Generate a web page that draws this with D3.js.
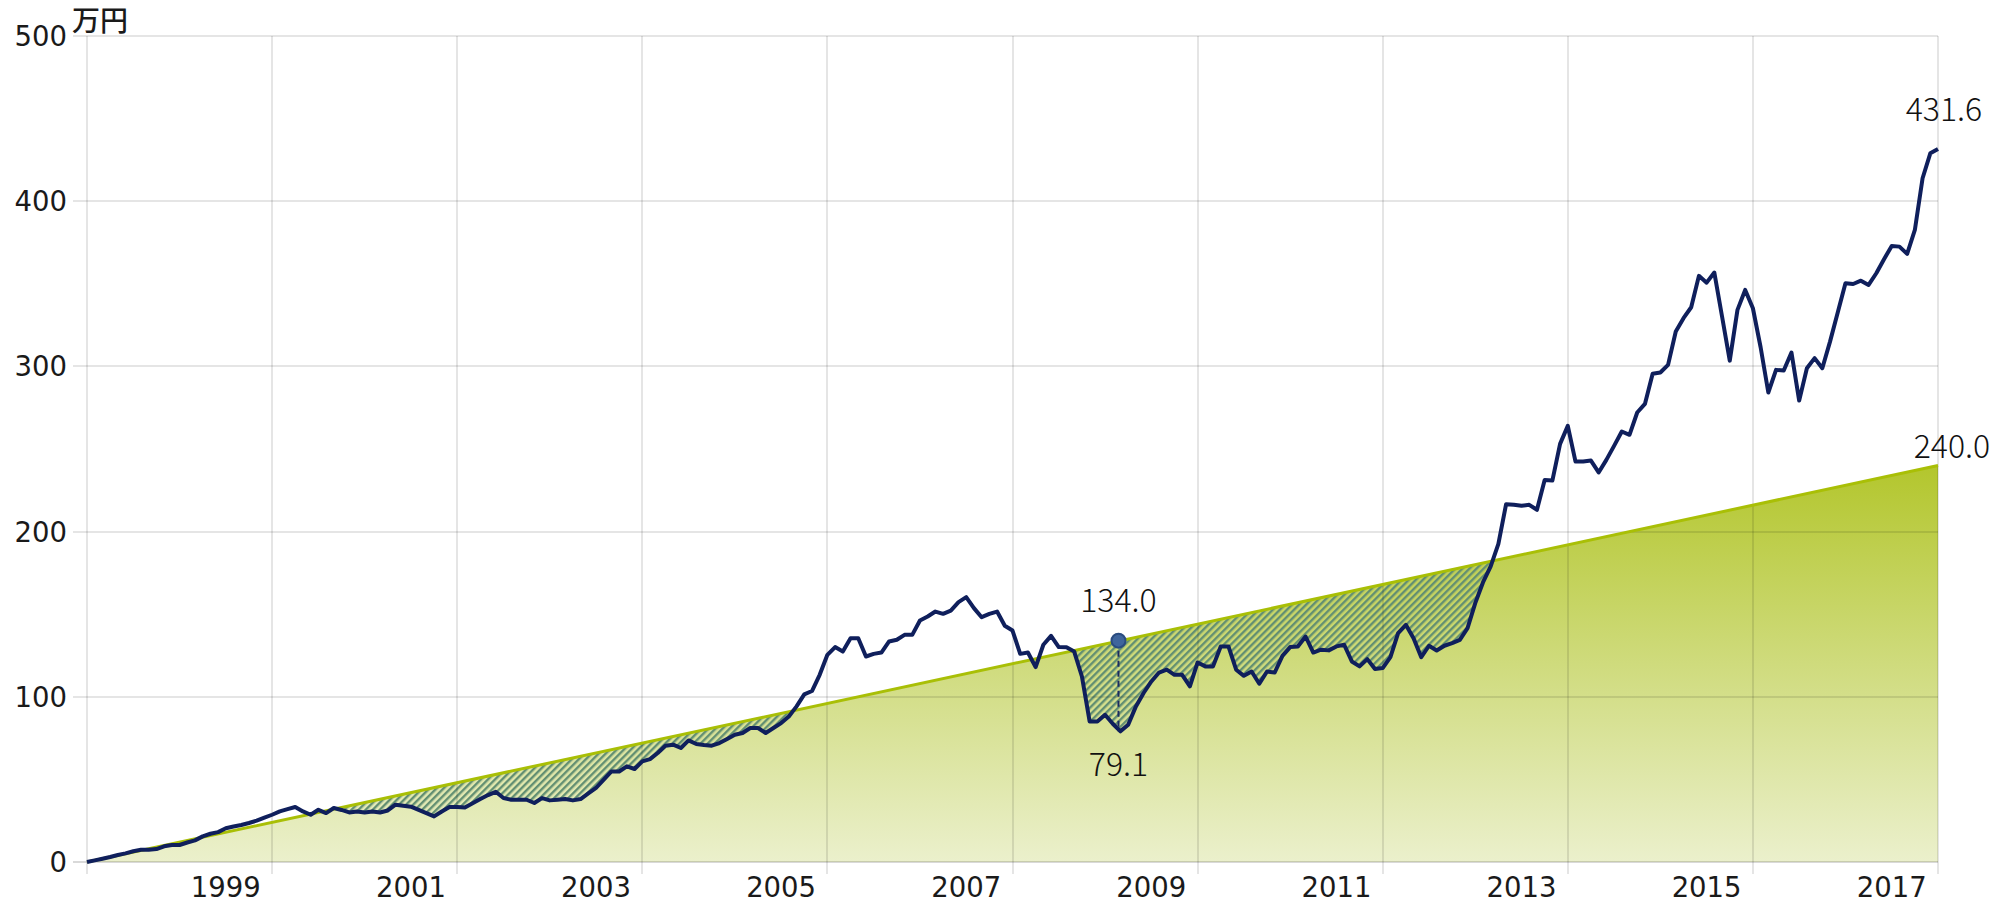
<!DOCTYPE html>
<html>
<head>
<meta charset="utf-8">
<script src="https://cdn.jsdelivr.net/npm/d3@7"></script>
<style>
  body { margin: 0; background: #fff; }
  svg { display: block; }
</style>
</head>
<body>
<script>
// years shown under the axis, y ticks (万円)
var yearLabels = [1999, 2001, 2003, 2005, 2007, 2009, 2011, 2013, 2015, 2017];
var yTicks = [0, 100, 200, 300, 400, 500];

// cumulative contribution (1万円 / month): straight line from start to end
var principalMonths = [0, 240];
var principalValues = [0, 240];

// market value of the holding, one value per month (万円)
var assetValues = [
  0, 1.0, 2.0, 3.0, 4.2, 5.2, 6.5, 7.4, 7.4, 7.8,
  9.5, 10.3, 10.3, 11.8, 13.1, 15.5, 17.1, 18.1, 20.4, 21.5,
  22.4, 23.6, 25.0, 26.8, 28.6, 30.6, 32.0, 33.3, 30.6, 28.6,
  31.6, 29.6, 32.7, 31.5, 30.0, 30.6, 30.0, 30.6, 30.0, 31.2,
  34.7, 34.1, 33.5, 31.5, 29.6, 27.6, 30.6, 33.3, 33.3, 33.0,
  35.5, 38.1, 40.5, 42.5, 38.7, 37.7, 37.7, 37.7, 35.7, 38.7,
  37.3, 37.7, 38.1, 37.3, 38.1, 41.5, 44.8, 49.8, 54.8, 54.8,
  57.9, 56.3, 60.9, 62.3, 66.0, 70.4, 71.0, 69.0, 73.6, 71.4,
  70.8, 70.4, 72.0, 74.5, 77.0, 78.1, 81.1, 81.1, 78.1, 81.1,
  84.1, 88.1, 94.2, 101.5, 103.5, 113.3, 125.4, 130.1, 127.4, 135.5,
  135.5, 124.4, 126.0, 126.8, 133.5, 134.5, 137.5, 137.5, 146.2, 148.6,
  151.6, 150.2, 152.2, 157.3, 160.3, 153.7, 148.2, 150.2, 151.6, 143.0,
  140.1, 126.0, 126.8, 118.0, 131.5, 136.9, 130.1, 130.0, 127.4, 112.3,
  85.1, 85.1, 89.1, 83.7, 79.1, 83.1, 94.2, 102.3, 109.3, 114.7,
  116.4, 113.3, 113.3, 106.3, 120.8, 118.4, 118.4, 130.5, 130.5, 116.4,
  112.7, 115.3, 107.9, 115.3, 114.7, 124.8, 130.1, 130.5, 136.5, 126.8,
  128.5, 128.1, 130.5, 131.5, 121.4, 118.4, 122.8, 116.8, 117.4, 124.0,
  138.6, 143.6, 135.5, 124.0, 130.9, 128.0, 130.9, 132.5, 134.5, 141.6,
  156.7, 169.2, 178.9, 192.6, 216.6, 216.2, 215.6, 216.2, 213.2, 231.3,
  230.9, 253.1, 264.0, 242.4, 242.4, 243.0, 235.8, 243.4, 251.9, 260.6,
  258.6, 272.1, 277.3, 295.5, 296.3, 300.9, 321.1, 329.2, 335.8, 354.8,
  350.7, 356.8, 330.2, 303.5, 334.2, 346.3, 335.2, 311.6, 284.2, 297.9,
  297.5, 308.4, 279.3, 298.9, 305.0, 298.9, 315.0, 332.6, 350.4, 349.9,
  351.9, 349.3, 356.4, 364.9, 372.9, 372.5, 368.1, 382.6, 413.9, 429.0,
  431.6
];

// worst point (month, principal, value)
var dipMonth = 134, dipPrincipal = 134.0, dipValue = 79.1;

var W = 1995, H = 902;
var margin = {top: 36, right: 57, bottom: 40, left: 87};

var x = d3.scaleLinear().domain([0, 240]).range([margin.left, W - margin.right]);
var y = d3.scaleLinear().domain([0, 500]).range([H - margin.bottom, margin.top]);

var svg = d3.select("body").append("svg")
    .attr("width", W)
    .attr("height", H);

var defs = svg.append("defs");

var grad = defs.append("linearGradient")
    .attr("id", "principalFill")
    .attr("gradientUnits", "userSpaceOnUse")
    .attr("x1", 0).attr("x2", 0)
    .attr("y1", y(240)).attr("y2", y(0));
grad.append("stop").attr("offset", "0%").attr("stop-color", "#b3c62d");
grad.append("stop").attr("offset", "100%").attr("stop-color", "#ebf0cc");

var hatch = defs.append("pattern")
    .attr("id", "hatch")
    .attr("patternUnits", "userSpaceOnUse")
    .attr("width", 5).attr("height", 5)
    .attr("patternTransform", "rotate(45)");
hatch.append("line")
    .attr("x1", 1.2).attr("y1", 0)
    .attr("x2", 1.2).attr("y2", 5)
    .attr("stroke", "#628f72")
    .attr("stroke-width", 2.4);

var principal = principalMonths.map(function(m, i) { return {m: m, v: principalValues[i]}; });
var asset = assetValues.map(function(v, i) { return {m: i, v: v}; });

var principalArea = d3.area()
    .x(function(d) { return x(d.m); })
    .y0(y(0))
    .y1(function(d) { return y(d.v); });

defs.append("clipPath")
    .attr("id", "belowPrincipal")
  .append("path")
    .attr("d", principalArea(principal));

// area under the contribution line
svg.append("path")
    .attr("d", principalArea(principal))
    .attr("fill", "url(#principalFill)");

// hatched loss area: above the value line, below the contribution line
var lossArea = d3.area()
    .x(function(d) { return x(d.m); })
    .y0(function(d) { return y(d.v); })
    .y1(margin.top);

svg.append("path")
    .attr("d", lossArea(asset))
    .attr("fill", "url(#hatch)")
    .attr("clip-path", "url(#belowPrincipal)");

// grid
var grid = svg.append("g").attr("class", "grid");
grid.selectAll(".hgrid")
    .data(yTicks)
  .enter().append("line")
    .attr("x1", margin.left - 14)
    .attr("x2", x(240))
    .attr("y1", function(d) { return Math.round(y(d)); })
    .attr("y2", function(d) { return Math.round(y(d)); })
    .attr("stroke", "#000")
    .attr("stroke-opacity", function(d) { return d === 0 ? 0.15 : 0.1; })
    .attr("stroke-width", 2);

grid.selectAll(".vgrid")
    .data(d3.range(0, 241, 24))
  .enter().append("line")
    .attr("x1", function(d) { return Math.round(x(d)); })
    .attr("x2", function(d) { return Math.round(x(d)); })
    .attr("y1", y(500))
    .attr("y2", y(0) + 12)
    .attr("stroke", "#000")
    .attr("stroke-opacity", 0.1)
    .attr("stroke-width", 2);

// contribution line
svg.append("path")
    .attr("d", d3.line()
        .x(function(d) { return x(d.m); })
        .y(function(d) { return y(d.v); })(principal))
    .attr("fill", "none")
    .attr("stroke", "#a9bf06")
    .attr("stroke-width", 3);

// value line
svg.append("path")
    .attr("d", d3.line()
        .x(function(d) { return x(d.m); })
        .y(function(d) { return y(d.v); })(asset))
    .attr("fill", "none")
    .attr("stroke", "#0f1f5c")
    .attr("stroke-width", 4)
    .attr("stroke-linejoin", "round");

// dip marker
svg.append("line")
    .attr("x1", x(dipMonth) - 2).attr("x2", x(dipMonth) - 2)
    .attr("y1", y(dipPrincipal)).attr("y2", y(dipValue))
    .attr("stroke", "#1b2b60")
    .attr("stroke-width", 2)
    .attr("stroke-dasharray", "6,4");

svg.append("circle")
    .attr("cx", x(dipMonth) - 2)
    .attr("cy", y(dipPrincipal))
    .attr("r", 7)
    .attr("fill", "#3f659c")
    .attr("stroke", "#2a4c80")
    .attr("stroke-width", 2);

var annFont = "'Noto Sans CJK JP', 'Noto Sans', sans-serif";

function note(px, py, txt) {
  svg.append("text")
      .attr("x", px).attr("y", py)
      .attr("text-anchor", "middle")
      .attr("font-family", annFont)
      .attr("font-weight", 300)
      .attr("font-size", "32px")
      .attr("fill", "#111")
      .text(txt);
}

note(x(dipMonth) - 2, y(dipPrincipal) - 29, dipPrincipal.toFixed(1));
note(x(dipMonth) - 2, y(dipValue) + 45, dipValue.toFixed(1));
note(x(240) + 6, y(assetValues[assetValues.length - 1]) - 28, assetValues[assetValues.length - 1].toFixed(1));
note(x(240) + 14, y(principalValues[1]) - 8, principalValues[1].toFixed(1));

// axis labels
var axisFont = "'DejaVu Sans', Verdana, sans-serif";

svg.selectAll(".ylab")
    .data(yTicks)
  .enter().append("text")
    .attr("x", margin.left - 20)
    .attr("y", function(d) { return y(d); })
    .attr("dy", "0.36em")
    .attr("text-anchor", "end")
    .attr("font-family", axisFont)
    .attr("font-size", "27.5px")
    .attr("fill", "#1a1a1a")
    .text(function(d) { return d; });

svg.selectAll(".xlab")
    .data(yearLabels)
  .enter().append("text")
    .attr("x", function(d) { return x((d - 1997) * 12 - 6); })
    .attr("y", H - 5)
    .attr("text-anchor", "middle")
    .attr("font-family", axisFont)
    .attr("font-size", "27.5px")
    .attr("fill", "#1a1a1a")
    .text(function(d) { return d; });

svg.append("text")
    .attr("x", 72)
    .attr("y", 31)
    .attr("font-family", "'Noto Sans CJK JP', sans-serif")
    .attr("font-weight", 500)
    .attr("font-size", "28px")
    .attr("fill", "#1a1a1a")
    .text("万円");
</script>
</body>
</html>
